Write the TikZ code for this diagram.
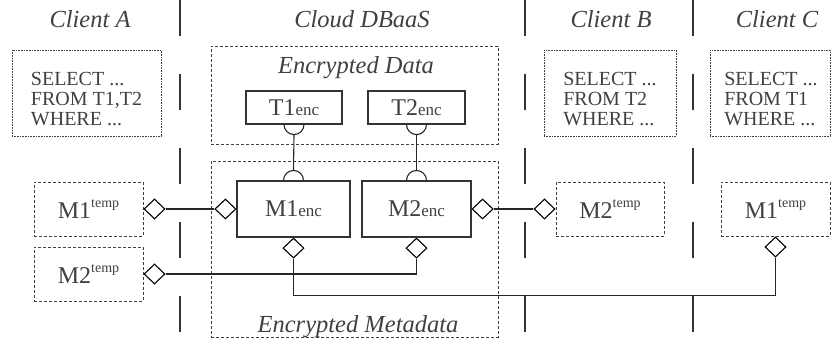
\documentclass[tikz,border=0pt]{standalone}
\usepackage{fontspec}
\setmainfont{Liberation Serif}
\usetikzlibrary{shapes.geometric,calc}
\newcommand{\encpart}{{\fontsize{17}{17}\selectfont enc}}
\newcommand{\temppart}{\raisebox{11pt}{\fontsize{14}{14}\selectfont temp}}
\begin{document}
\begin{tikzpicture}[x=1pt,y=1pt,
    every node/.style={text=black!75},
    title/.style={font=\fontsize{24.5}{28}\selectfont\itshape, anchor=base},
    sep/.style={black!80, line width=1.2pt, dash pattern=on 36pt off 38pt},
    query/.style={draw=black!75, line width=0.8pt, dash pattern=on 0.8pt off 0.8pt,
        minimum height=86pt, inner sep=0pt},
    querytext/.style={align=left, font=\fontsize{20}{20}\selectfont, inner sep=0pt},
    area/.style={draw=black!75, line width=0.9pt, dash pattern=on 3pt off 2pt, inner sep=0pt},
    tmpbox/.style={area, minimum width=109pt, minimum height=54pt, font=\fontsize{24}{28}\selectfont},
    encbox/.style={draw=black!80, line width=1.1pt, font=\fontsize{24}{28}\selectfont, inner sep=0pt},
    dia/.style={diamond, draw=black, line width=1.1pt, minimum width=21pt, minimum height=20pt,
        inner sep=0pt, fill=white},
    link/.style={black!85, line width=1.1pt}]
    \useasboundingbox (0,0) rectangle (831,-339);

    % columns
    \node [title] (ta) at (90,-28) {Client A};
    \node [title] (tcloud) at (362,-28) {Cloud DBaaS};
    \node [title] (tb) at (611,-28) {Client B};
    \node [title] (tc) at (777,-28) {Client C};
    \draw [sep] (180,0) -- (180,-339);
    \draw [sep] (525,0) -- (525,-339);
    \draw [sep] (693,0) -- (693,-339);

    % queries
    \node [query, minimum width=149pt] (qa) at (86.5,-93) {};
    \node [query, minimum width=132pt] (qb) at (610,-93) {};
    \node [query, minimum width=120pt] (qc) at (770,-93) {};
    \node [querytext] (qatx) at (86.5,-99) {SELECT ...\\FROM T1,T2\\WHERE ...};
    \node [querytext] (qbtx) at (610,-99) {SELECT ...\\FROM T2\\WHERE ...};
    \node [querytext] (qctx) at (771,-99) {SELECT ...\\FROM T1\\WHERE ...};

    % cloud
    \node [area, minimum width=287pt, minimum height=98pt] (data) at (354.5,-95) {};
    \node [area, minimum width=287pt, minimum height=176pt] (meta) at (354.5,-249) {};
    \node [title] (ldata) at (356,-74) {Encrypted Data};
    \node [title] (lmeta) at (358,-333) {Encrypted Metadata};
    \node [encbox, minimum width=96pt, minimum height=33pt] (t1) at (294,-107.5) {T1\encpart};
    \node [encbox, minimum width=97pt, minimum height=33pt] (t2) at (416.5,-107.5) {T2\encpart};
    \node [encbox, minimum width=113pt, minimum height=56pt] (m1) at (293.5,-209) {M1\encpart};
    \node [encbox, minimum width=109pt, minimum height=56pt] (m2) at (416.5,-209) {M2\encpart};

    % temporary metadata
    \node [tmpbox] (m1a) at (88.5,-209) {M1\temppart};
    \node [tmpbox] (m2a) at (88.5,-274) {M2\temppart};
    \node [tmpbox, minimum width=108pt] (m2b) at (610,-209) {M2\temppart};
    \node [tmpbox] (m1c) at (775.5,-209) {M1\temppart};

    % diamonds
    \node [dia, anchor=east] (dm1l) at (m1.west) {};
    \node [dia, anchor=west] (dm2r) at (m2.east) {};
    \node [dia, anchor=north] (dm1b) at (m1.south) {};
    \node [dia, anchor=north] (dm2b) at (m2.south) {};
    \node [dia, anchor=west] (dm1a) at (m1a.east) {};
    \node [dia, anchor=west] (dm2a) at (m2a.east) {};
    \node [dia, anchor=east] (dm2bl) at (m2b.west) {};
    \node [dia, anchor=north] (dm1c) at (m1c.south) {};

    % sockets
    \draw [link] (t1.south) ++(-10,0) arc[start angle=180, end angle=360, radius=10pt];
    \draw [link] (t2.south) ++(-10,0) arc[start angle=180, end angle=360, radius=10pt];
    \draw [link] (m1.north) ++(-10,0) arc[start angle=180, end angle=0, radius=10pt];
    \draw [link] (m2.north) ++(-10,0) arc[start angle=180, end angle=0, radius=10pt];
    \draw [link] ($(t1.south)+(0,-10)$) -- ($(m1.north)+(0,10)$);
    \draw [link] ($(t2.south)+(0,-10)$) -- ($(m2.north)+(0,10)$);

    % links
    \draw [link] (dm1a.east) -- (dm1l.west);
    \draw [link] (dm2r.east) -- (dm2bl.west);
    \draw [link] (dm2b.south) |- (dm2a.east);
    \draw [link] (dm1b.south) -- ++(0,-37) -| (dm1c.south);
\end{tikzpicture}
\end{document}
